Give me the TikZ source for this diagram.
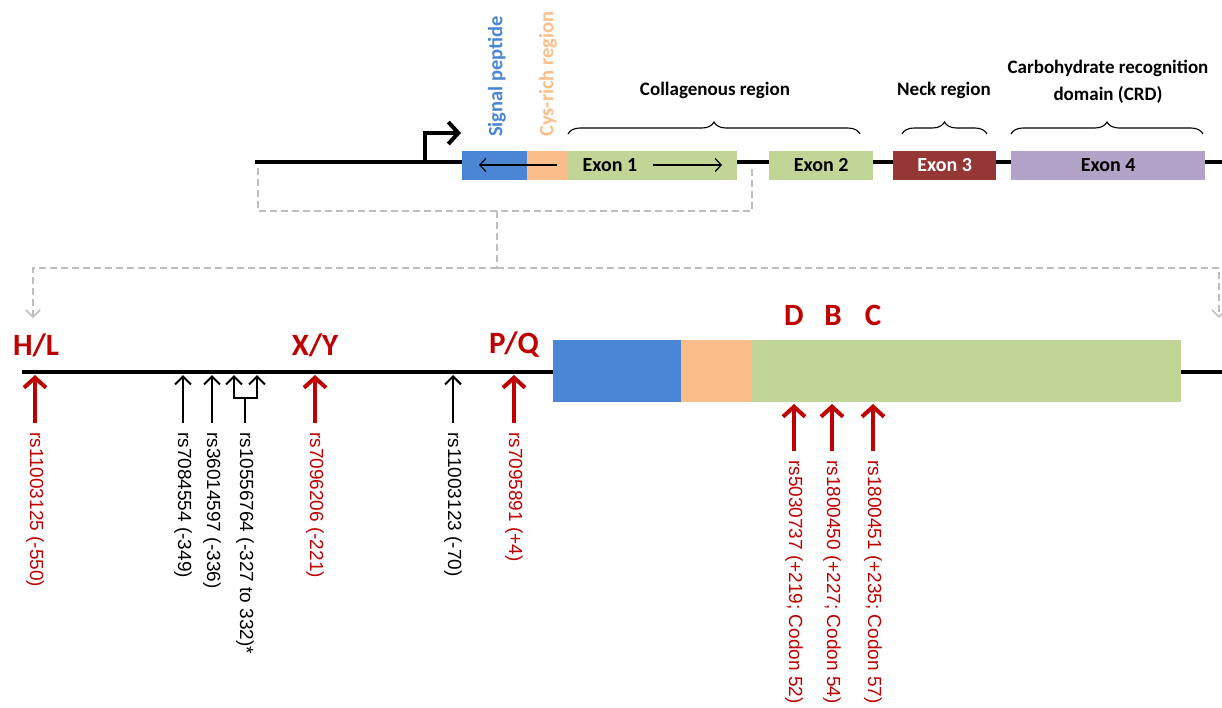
\documentclass[tikz,border=0pt]{standalone}
\usepackage{fontspec}
\setmainfont{Carlito}
\newfontfamily\snpfont{Liberation Sans}
\usetikzlibrary{arrows.meta,positioning,decorations.pathreplacing}

\definecolor{sigblue}{RGB}{74,134,212}
\definecolor{cysorange}{RGB}{251,190,138}
\definecolor{colgreen}{RGB}{193,214,150}
\definecolor{neckred}{RGB}{149,55,53}
\definecolor{crdpurple}{RGB}{179,162,199}
\definecolor{snpred}{RGB}{192,0,0}
\definecolor{zoomgrey}{RGB}{190,190,190}

\tikzset{
    dna/.style       = {line width=4pt},
    seg/.style       = {rectangle, inner sep=0pt, anchor=west},
    exon/.style      = {seg, minimum height=29pt,
        font=\fontsize{20}{24}\selectfont\bfseries},
    region/.style    = {font=\fontsize{19}{27}\selectfont\bfseries, align=center},
    sideregion/.style= {rotate=90, anchor=west, inner sep=1pt,
        font=\fontsize{20.5}{24}\selectfont\bfseries},
    regbrace/.style  = {decorate, decoration={brace, amplitude=12pt},
        line width=1.1pt},
    zoomline/.style  = {draw=zoomgrey, dash pattern=on 7pt off 4pt,
        line width=1.5pt},
    zoomtip/.style   = {-{Straight Barb[length=7pt,width=14pt]}},
    snp/.style       = {rotate=-90, anchor=west, inner xsep=9pt, inner ysep=0pt,
        font=\snpfont\fontsize{19}{21}\selectfont},
    snp major/.style = {-{Straight Barb[length=10pt,width=22pt]},
        line width=4pt, draw=snpred},
    snp minor/.style = {-{Straight Barb[length=8pt,width=16pt]}, line width=2pt},
    allele/.style    = {text=snpred, font=\fontsize{31}{34}\selectfont\bfseries},
}

\begin{document}
\begin{tikzpicture}[x=1pt, y=-1pt]
    \useasboundingbox (0,0) rectangle (1222,707);

    % gene with its four exons
    \coordinate (gene_start) at (255,162);
    \coordinate (gene_end) at (1222,162);
    \draw [dna] (gene_start) -- (gene_end);

    \node [exon, fill=sigblue, minimum width=65pt] (ex1_sp) at (462,165) {};
    \node [exon, fill=cysorange, minimum width=41pt, right=-0.5pt of ex1_sp] (ex1_cys) {};
    \node [exon, fill=colgreen, minimum width=169pt, right=-0.5pt of ex1_cys] (ex1_col) {};
    \node [font=\fontsize{20}{24}\selectfont\bfseries] (ex1_lbl) at (610,165) {Exon 1};
    \node [exon, fill=colgreen, minimum width=104pt] (ex2) at (769,165) {Exon 2};
    \node [exon, fill=neckred, text=white, minimum width=103pt] (ex3) at (893,165) {Exon 3};
    \node [exon, fill=crdpurple, minimum width=194pt] (ex4) at (1011,165) {Exon 4};

    % transcription start and directions
    \coordinate (tss) at (425,162);
    \coordinate (tss_top) at (425,133);
    \coordinate (tss_tip) at (461,133);
    \draw [dna, -{Straight Barb[length=10pt,width=22pt]}] (tss) -- (tss_top) -- (tss_tip);

    \coordinate (dir_left_a) at (557,165);
    \coordinate (dir_left_b) at (479,165);
    \coordinate (dir_right_a) at (653,165);
    \coordinate (dir_right_b) at (722,165);
    \draw [-{Straight Barb[length=6pt,width=13pt]}, line width=1.2pt] (dir_left_a) -- (dir_left_b);
    \draw [-{Straight Barb[length=6pt,width=13pt]}, line width=1.2pt] (dir_right_a) -- (dir_right_b);

    % protein regions
    \node [sideregion, text=sigblue] (sp_lbl) at (497,138) {Signal peptide};
    \node [sideregion, text=cysorange] (cys_lbl) at (548,138) {Cys-rich region};

    \coordinate (col_a) at (568,134);
    \coordinate (col_b) at (860,134);
    \draw [regbrace] (col_a) -- (col_b);
    \node [region] (col_lbl) at (715,90) {Collagenous region};

    \coordinate (neck_a) at (902,134);
    \coordinate (neck_b) at (987,134);
    \draw [regbrace] (neck_a) -- (neck_b);
    \node [region] (neck_lbl) at (944,90) {Neck region};

    \coordinate (crd_a) at (1011,134);
    \coordinate (crd_b) at (1203,134);
    \draw [regbrace] (crd_a) -- (crd_b);
    \node [region] (crd_lbl) at (1108,82) {Carbohydrate recognition\\domain (CRD)};

    % zoom into the promoter and exon 1
    \coordinate (zoom_l) at (258,168);
    \coordinate (zoom_bl) at (258,211);
    \coordinate (zoom_br) at (752,211);
    \coordinate (zoom_r) at (752,168);
    \coordinate (zoom_mid) at (497,211);
    \coordinate (zoom_split) at (497,268);
    \coordinate (zoom_ltip) at (33,318);
    \coordinate (zoom_rtip) at (1219,318);
    \draw [zoomline] (zoom_l) -- (zoom_bl) -- (zoom_br) -- (zoom_r);
    \draw [zoomline] (zoom_mid) -- (zoom_split);
    \draw [zoomline, zoomtip] (zoom_split) -| (zoom_ltip);
    \draw [zoomline, zoomtip] (zoom_split) -| (zoom_rtip);

    % promoter and exon 1 in detail
    \coordinate (prom_start) at (22,372);
    \coordinate (prom_end) at (1222,372);
    \draw [dna] (prom_start) -- (prom_end);

    \node [seg, fill=sigblue, minimum width=128pt, minimum height=62pt] (sp_box) at (553,371) {};
    \node [seg, fill=cysorange, minimum width=70pt, minimum height=62pt, right=-0.5pt of sp_box] (cys_box) {};
    \node [seg, fill=colgreen, minimum width=430pt, minimum height=62pt, right=-0.5pt of cys_box] (col_box) {};

    \node [allele] (hl) at (36,345) {H/L};
    \node [allele] (xy) at (315,345) {X/Y};
    \node [allele] (pq) at (514,345) {P/Q};
    \node [allele] (d) at (794,315) {D};
    \node [allele] (b) at (833,315) {B};
    \node [allele] (c) at (873,315) {C};

    % promoter polymorphisms
    \node [snp, text=snpred] (rs550) at (35,423) {rs11003125 (-550)};
    \coordinate (rs550_pos) at (35,375);
    \draw [snp major] (rs550.west) -- (rs550_pos);

    \node [snp] (rs349) at (183,423) {rs7084554 (-349)};
    \coordinate (rs349_pos) at (183,375);
    \draw [snp minor] (rs349.west) -- (rs349_pos);

    \node [snp] (rs336) at (212,423) {rs36014597 (-336)};
    \coordinate (rs336_pos) at (212,375);
    \draw [snp minor] (rs336.west) -- (rs336_pos);

    \node [snp] (rs327) at (245,423) {rs10556764 (-327 to 332)*};
    \coordinate (fork_mid) at (245,398);
    \coordinate (fork_a) at (234,375);
    \coordinate (fork_b) at (257,375);
    \draw [line width=2pt] (rs327.west) -- (fork_mid);
    \draw [snp minor] (fork_mid) -| (fork_a);
    \draw [snp minor] (fork_mid) -| (fork_b);

    \node [snp, text=snpred] (rs221) at (315,423) {rs7096206 (-221)};
    \coordinate (rs221_pos) at (315,375);
    \draw [snp major] (rs221.west) -- (rs221_pos);

    \node [snp] (rs70) at (453,423) {rs11003123 (-70)};
    \coordinate (rs70_pos) at (453,375);
    \draw [snp minor] (rs70.west) -- (rs70_pos);

    \node [snp, text=snpred] (rs4) at (514,423) {rs7095891 (+4)};
    \coordinate (rs4_pos) at (514,375);
    \draw [snp major] (rs4.west) -- (rs4_pos);

    % exon 1 polymorphisms
    \node [snp, text=snpred] (cod52) at (794,451) {rs5030737 (+219; Codon 52)};
    \coordinate (cod52_pos) at (794,404);
    \draw [snp major] (cod52.west) -- (cod52_pos);

    \node [snp, text=snpred] (cod54) at (832,451) {rs1800450 (+227; Codon 54)};
    \coordinate (cod54_pos) at (832,404);
    \draw [snp major] (cod54.west) -- (cod54_pos);

    \node [snp, text=snpred] (cod57) at (873,451) {rs1800451 (+235; Codon 57)};
    \coordinate (cod57_pos) at (873,404);
    \draw [snp major] (cod57.west) -- (cod57_pos);
\end{tikzpicture}
\end{document}
